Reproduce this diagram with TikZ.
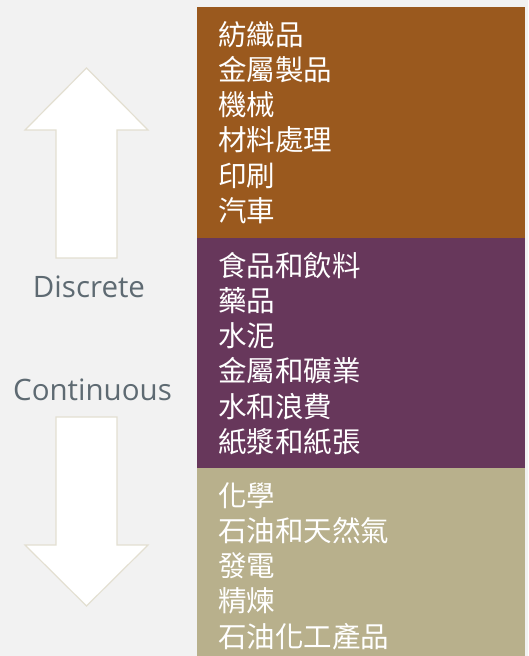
\documentclass[tikz,border=0pt]{standalone}
\usepackage{fontspec}
\setmainfont{Open Sans}
\newfontfamily\cjkfont{Noto Sans CJK TC}
\usetikzlibrary{positioning,calc}
\definecolor{PageBg}{HTML}{F2F2F2}
\definecolor{BandBrown}{HTML}{9A591E}
\definecolor{BandPlum}{HTML}{67375B}
\definecolor{BandKhaki}{HTML}{B8B08C}
\definecolor{ArrowEdge}{HTML}{E3DFD1}
\definecolor{LabelGray}{HTML}{5E6A72}
\tikzset{
  % Base band
  band/.style={rectangle,anchor=north west,inner sep=0pt,outer sep=0pt,
               minimum width=328pt},
  % Colour variants
  bB/.style={band,fill=BandBrown,minimum height=231pt},
  bP/.style={band,fill=BandPlum, minimum height=230pt},
  bK/.style={band,fill=BandKhaki,minimum height=188pt},
  % Industry lines
  item/.style={anchor=base west,inner sep=0pt,text=white,
               font=\cjkfont\fontsize{28.5}{34}\selectfont},
  % Side labels
  side/.style={anchor=base,inner sep=0pt,text=LabelGray,
               font=\fontsize{29.5}{34}\selectfont},
  % Hollow arrows
  hollow/.style={fill=white,draw=ArrowEdge,line width=1.2pt,line join=miter}
}
\begin{document}
\begin{tikzpicture}[x=1pt,y=-1pt]
  \fill[PageBg] (0,0) rectangle (528,656);
  \useasboundingbox (0,0) rectangle (528,656);
  \node[bB] (discrete)   at (197,7)   {};
  \node[bP] (batch)      at (197,238) {};
  \node[bK] (continuous) at (197,468) {};
  \foreach \t [count=\i] in {紡織品,金屬製品,機械,材料處理,印刷,汽車}
    \node[item] (disc\i) at ([xshift=21pt,yshift={-38pt-(\i-1)*35.3pt}]discrete.north west) {\t};
  \foreach \t [count=\i] in {食品和飲料,藥品,水泥,金屬和礦業,水和浪費,紙漿和紙張}
    \node[item] (batch\i) at ([xshift=21pt,yshift={-38pt-(\i-1)*35.3pt}]batch.north west) {\t};
  \foreach \t [count=\i] in {化學,石油和天然氣,發電,精煉,石油化工產品}
    \node[item] (cont\i) at ([xshift=21pt,yshift={-38pt-(\i-1)*35.3pt}]continuous.north west) {\t};
  % arrows
  \draw[hollow] (86.5,68) -- (148,130) -- (117,130) -- (117,258)
    -- (56,258) -- (56,130) -- (25,130) -- cycle;
  \draw[hollow] (86.5,606) -- (148,545) -- (117,545) -- (117,417)
    -- (56,417) -- (56,545) -- (25,545) -- cycle;
  \node[side] (lblDisc) at (89,297)   {Discrete};
  \node[side] (lblCont) at (92.5,400) {Continuous};
\end{tikzpicture}
\end{document}
